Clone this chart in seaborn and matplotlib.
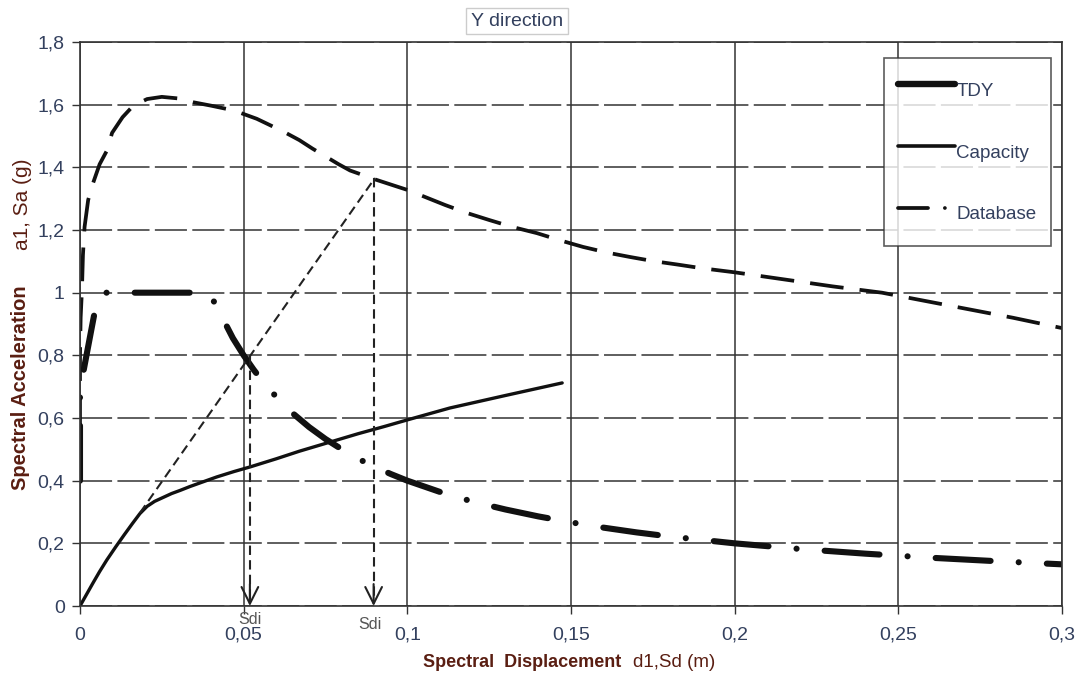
import pandas as pd
import seaborn as sns
import matplotlib.pyplot as plt
from matplotlib.lines import Line2D

# Данные
tdy_sd = [0, 0, 0.0018, 0.0052, 0.008, 0.012, 0.02, 0.03, 0.037, 0.04, 0.043, 0.0467,
          0.05, 0.053, 0.056, 0.06, 0.065, 0.07, 0.075, 0.08, 0.085, 0.09, 0.095, 0.1,
          0.11, 0.12, 0.13, 0.14, 0.15, 0.16, 0.17, 0.18, 0.19, 0.2, 0.22, 0.24, 0.26,
          0.28, 0.3]
tdy_sa = [0.4, 0.69, 0.79, 0.977, 1.0, 1.0, 1.0, 1.0, 1.0, 0.99, 0.93, 0.855,
          0.8, 0.755, 0.714, 0.667, 0.615, 0.571, 0.533, 0.5, 0.47, 0.444, 0.421, 0.4,
          0.364, 0.333, 0.308, 0.286, 0.267, 0.25, 0.235, 0.222, 0.211, 0.2, 0.182, 0.167, 0.154,
          0.143, 0.133]

cap_sd = [0, 0.002, 0.004, 0.006, 0.0082, 0.011, 0.0135, 0.016, 0.0183, 0.0205, 0.0228,
          0.0255, 0.028, 0.0306, 0.0335, 0.0367, 0.0418, 0.047, 0.052, 0.06, 0.067, 0.076,
          0.085, 0.093, 0.1, 0.113, 0.13, 0.1473]
cap_sa = [0, 0.037, 0.074, 0.11, 0.147, 0.19, 0.227, 0.263, 0.295, 0.318, 0.334,
          0.347, 0.359, 0.369, 0.381, 0.393, 0.412, 0.429, 0.444, 0.47, 0.494, 0.522,
          0.55, 0.573, 0.594, 0.632, 0.672, 0.712]

db_sd = [0, 0, 0.0002, 0.0006, 0.0009, 0.0014, 0.0025, 0.004, 0.006, 0.0083, 0.0098,
         0.013, 0.0162, 0.0205, 0.025, 0.03, 0.0345, 0.04, 0.045, 0.049, 0.054, 0.058,
         0.062, 0.067, 0.071, 0.075, 0.079, 0.0825, 0.086, 0.09, 0.095, 0.1, 0.106,
         0.1115, 0.118, 0.125, 0.132, 0.1396, 0.147, 0.1537, 0.161, 0.168, 0.175, 0.1824,
         0.19, 0.2, 0.21, 0.22, 0.23, 0.245, 0.257, 0.27, 0.285, 0.3]
db_sa = [0.4, 0.8, 0.92, 1.01, 1.12, 1.21, 1.296, 1.35, 1.41, 1.455, 1.51,
         1.56, 1.596, 1.618, 1.625, 1.62, 1.608, 1.597, 1.586, 1.574, 1.555, 1.535,
         1.515, 1.487, 1.46, 1.435, 1.41, 1.39, 1.377, 1.362, 1.345, 1.328, 1.303,
         1.28, 1.255, 1.232, 1.21, 1.19, 1.166, 1.146, 1.128, 1.114, 1.101, 1.09,
         1.078, 1.065, 1.05, 1.035, 1.02, 1.0, 0.976, 0.95, 0.92, 0.887]

secant_sd = [0.0183, 0.0901]
secant_sa = [0.297, 1.366]
sdi_1 = [0.0519, 0.797]
sdi_2 = [0.0897, 1.366]

x_ticks = [0, 0.05, 0.1, 0.15, 0.2, 0.25, 0.3]
x_labels = ['0', '0,05', '0,1', '0,15', '0,2', '0,25', '0,3']
y_ticks = [0, 0.2, 0.4, 0.6, 0.8, 1.0, 1.2, 1.4, 1.6, 1.8]
y_labels = ['0', '0,2', '0,4', '0,6', '0,8', '1', '1,2', '1,4', '1,6', '1,8']

sns.set_style('white')
plt.rcParams['font.family'] = ['Liberation Sans', 'DejaVu Sans']

tick_col = '#33405e'
lab_col = '#5a1e12'

fig = plt.figure(figsize=(10.78, 6.79), dpi=100)
ax = fig.add_axes([0.0742, 0.1075, 0.911, 0.8306])

# Сетка
ax.set_xlim(0, 0.3)
ax.set_ylim(0, 1.8)
ax.set_xticks(x_ticks)
ax.set_xticklabels(x_labels)
ax.set_yticks(y_ticks)
ax.set_yticklabels(y_labels)
ax.xaxis.grid(True, color='#333333', lw=1.1, linestyle='-')
ax.yaxis.grid(True, color='#333333', lw=1.1, linestyle=(0, (21, 3.5)))
ax.set_axisbelow(True)
for s in ax.spines.values():
    s.set_color('#333333')
    s.set_linewidth(1.2)
ax.tick_params(axis='x', direction='out', length=6, width=1, color='#333333',
               labelsize=14, labelcolor=tick_col, pad=9, bottom=True)
ax.tick_params(axis='y', direction='out', length=6, width=1, color='#333333',
               labelsize=14, labelcolor=tick_col, pad=5, left=True)

# Кривые
sns.lineplot(x=cap_sd, y=cap_sa, sort=False, estimator=None, ax=ax,
             color='#111111', lw=2.4)
sns.lineplot(x=db_sd, y=db_sa, sort=False, estimator=None, ax=ax,
             color='#111111', lw=2.7, linestyle=(0, (9, 4.3)))
sns.lineplot(x=tdy_sd, y=tdy_sa, sort=False, estimator=None, ax=ax,
             color='#111111', lw=4.4, linestyle=(0, (9, 4.6, 0.01, 4.6)),
             dash_capstyle='round')

# Секущая и стрелки Sdi
ax.plot(secant_sd, secant_sa, color='#222222', lw=1.5, linestyle=(0, (4.5, 2.5)))
for px, py in [sdi_1, sdi_2]:
    ax.plot([px, px], [py, 0.01], color='#222222', lw=1.5, linestyle=(0, (4.5, 2.5)))
    ax.annotate('', xy=(px, 0.0), xytext=(px, 0.07),
                arrowprops=dict(arrowstyle='->', color='#222222', lw=1.5,
                                mutation_scale=30, shrinkA=0, shrinkB=0))
ax.text(sdi_1[0], -0.018, 'Sdi', ha='center', va='top', fontsize=11.5, color='#555555')
ax.text(sdi_2[0] - 0.001, -0.035, 'Sdi', ha='center', va='top', fontsize=11.5, color='#555555')

# Легенда
handles = [
    Line2D([], [], color='#111111', lw=4.6, solid_capstyle='round'),
    Line2D([], [], color='#111111', lw=2.6),
    Line2D([], [], color='#111111', lw=2.7, linestyle=(0, (8, 4.5, 0.01, 10)),
           dash_capstyle='round'),
]
leg = ax.legend(handles, ['TDY', 'Capacity', 'Database'], loc='upper left',
                bbox_to_anchor=(0.819, 0.9716), fontsize=13.5, frameon=True,
                fancybox=False, edgecolor='#333333', handlelength=3.0,
                handleheight=2.56, handletextpad=0.1, labelspacing=1.39,
                borderpad=0.75, borderaxespad=0)
leg.get_frame().set_linewidth(1.2)
for t in leg.get_texts():
    t.set_color(tick_col)

# Подписи осей
fig.text(0.5765, 0.0236, 'Spectral  Displacement', ha='right', va='center',
         fontsize=13, fontweight='bold', color=lab_col)
fig.text(0.587, 0.0236, 'd1,Sd (m)', ha='left', va='center', fontsize=13.5, color=lab_col)
fig.text(0.0186, 0.4286, 'Spectral Acceleration', rotation=90, ha='center', va='center',
         fontsize=14.5, fontweight='bold', color=lab_col)
fig.text(0.0205, 0.6996, 'a1, Sa (g)', rotation=90, ha='center', va='center',
         fontsize=15, color=lab_col)

fig.text(0.4796, 0.969, 'Y direction', ha='center', va='center', fontsize=14,
         color=tick_col,
         bbox=dict(boxstyle='square,pad=0.25', fc='white', ec='#cccccc', lw=1))

plt.savefig('out.png', dpi=100)
